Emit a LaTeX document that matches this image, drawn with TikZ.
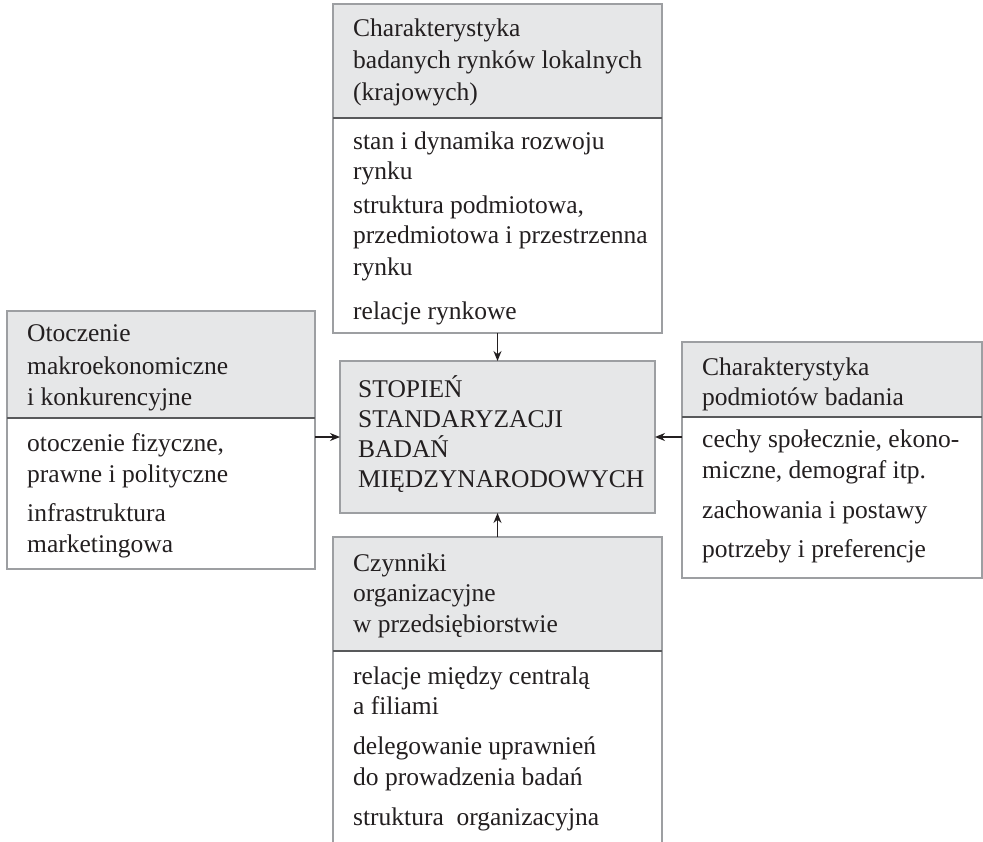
\documentclass[tikz,border=0pt]{standalone}
\usepackage{fontspec}
\setmainfont{Liberation Serif}
\usetikzlibrary{arrows.meta}
\definecolor{hdrfill}{HTML}{E6E7E8}
\definecolor{frame}{HTML}{9D9FA2}
\definecolor{rule}{HTML}{58595B}
\definecolor{ink}{HTML}{231F20}
\tikzset{
  panel/.style={draw=frame, line width=1.1pt, anchor=north west, inner sep=0pt, outer sep=0pt},
  head/.style={panel, fill=hdrfill},
  body/.style={panel, fill=white},
  divider/.style={draw=rule, line width=1.1pt},
  txt/.style={anchor=base west, inner sep=0pt, text=ink, font=\fontsize{25.5}{30}\selectfont},
  link/.style={draw=ink, line width=1.3pt, -{Stealth[length=10pt,width=8pt]}}
}
\begin{document}
\begin{tikzpicture}[x=1pt, y=-1pt]
\clip (0,0) rectangle (983,842);
\fill[white] (0,0) rectangle (983,842);

% frames: header (grey) above, item list (white) below
\node[head, minimum width=329pt, minimum height=114pt] (th) at (333,4) {};
\node[body, minimum width=329pt, minimum height=215pt] (tb) at (333,118) {};
\node[head, minimum width=315pt, minimum height=152pt] (ctr) at (340,361) {};
\node[head, minimum width=308pt, minimum height=107pt] (lh) at (7,311) {};
\node[body, minimum width=308pt, minimum height=151pt] (lb) at (7,418) {};
\node[head, minimum width=300pt, minimum height=75pt] (rh) at (682,342) {};
\node[body, minimum width=300pt, minimum height=161pt] (rb) at (682,417) {};
\node[head, minimum width=329pt, minimum height=114pt] (bh) at (333,537) {};
\node[body, minimum width=329pt, minimum height=230pt] (bb) at (333,651) {};

\foreach \h in {th,lh,rh,bh}
  \draw[divider] (\h.south west) -- (\h.south east);

% top group
\foreach \y/\t [count=\i] in {37/Charakterystyka, 69/badanych rynków lokalnych, 101/(krajowych)}
  \node[txt] (th-\i) at (353,\y) {\t};
\foreach \y/\t [count=\i] in {150/stan i dynamika rozwoju, 180/rynku, 214/{struktura podmiotowa,},
    244/przedmiotowa i przestrzenna, 276/rynku, 320/relacje rynkowe}
  \node[txt] (tb-\i) at (353,\y) {\t};

% centre
\foreach \y/\t [count=\i] in {398/STOPIEŃ, 428/STANDARYZACJI, 457/BADAŃ, 487/MIĘDZYNARODOWYCH}
  \node[txt] (ctr-\i) at (358,\y) {\t};

% left group
\foreach \y/\t [count=\i] in {342/Otoczenie, 374/makroekonomiczne, 405/i konkurencyjne}
  \node[txt] (lh-\i) at (27,\y) {\t};
\foreach \y/\t [count=\i] in {451/{otoczenie fizyczne,}, 482/prawne i polityczne, 521/infrastruktura, 552/marketingowa}
  \node[txt] (lb-\i) at (27,\y) {\t};

% right group
\foreach \y/\t [count=\i] in {376/Charakterystyka, 405/podmiotów badania}
  \node[txt] (rh-\i) at (702,\y) {\t};
\foreach \y/\t [count=\i] in {447/{cechy społecznie, ekono-}, 478/{miczne, demograf itp.}, 518/zachowania i postawy, 557/potrzeby i preferencje}
  \node[txt] (rb-\i) at (702,\y) {\t};

% bottom group
\foreach \y/\t [count=\i] in {571/Czynniki, 601/organizacyjne, 632/w przedsiębiorstwie}
  \node[txt] (bh-\i) at (353,\y) {\t};
\foreach \y/\t [count=\i] in {684/relacje między centralą, 714/a filiami, 754/delegowanie uprawnień,
    785/do prowadzenia badań, 825/struktura\ \ organizacyjna}
  \node[txt] (bb-\i) at (353,\y) {\t};

% connectors into the centre
\draw[link] (tb.south) -- (ctr.north);
\draw[link] (ctr.west -| lb.east) -- (ctr.west);
\draw[link] (ctr.east -| rb.west) -- (ctr.east);
\draw[link] (bh.north) -- (ctr.south);
\end{tikzpicture}
\end{document}
